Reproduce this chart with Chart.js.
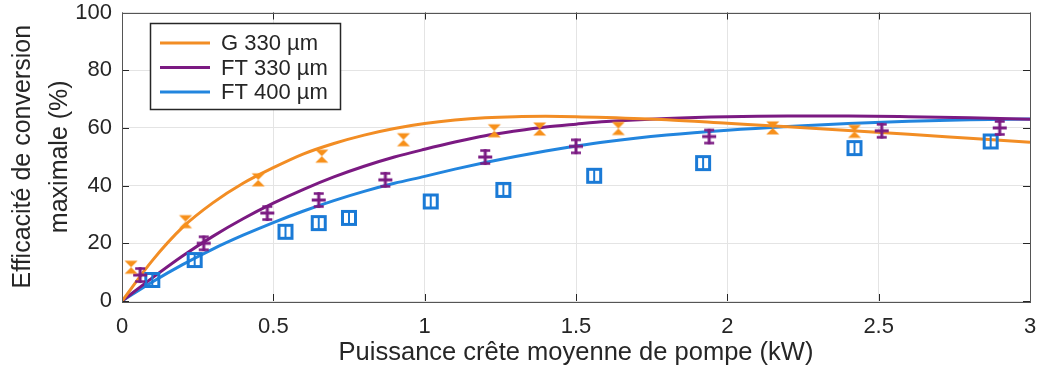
<!DOCTYPE html>
<html>
<head>
<meta charset="utf-8">
<script src="https://cdn.jsdelivr.net/npm/chart.js@4.4.1/dist/chart.umd.min.js"></script>
<style>
  html, body { margin: 0; padding: 0; background: #fff; }
</style>
</head>
<body>
<canvas id="effChart" width="1037" height="376"></canvas>
<script>
// fitted curves
const curveX = [0, 0.1, 0.2, 0.3, 0.4, 0.5, 0.6, 0.7, 0.8, 0.9, 1.0, 1.1, 1.2, 1.3, 1.4, 1.5, 1.6, 1.8, 2.0, 2.2, 2.4, 2.6, 2.8, 3.0];
const fitG330 = [0, 14, 25.5, 34, 40.8, 46.2, 51, 54.6, 57.5, 59.8, 61.5, 62.7, 63.5, 63.9, 64, 63.9, 63.6, 62.8, 61.6, 60.4, 59.1, 57.8, 56.4, 55];
const fitFT330 = [0, 8, 15.6, 22.4, 28.5, 33.9, 38.7, 43, 46.7, 49.9, 52.6, 55.1, 57.3, 58.9, 60.3, 61.3, 62.2, 63.3, 63.9, 64.1, 64.1, 63.9, 63.5, 63];
const fitFT400 = [0, 6.6, 12.6, 18, 22.8, 27.2, 31.2, 34.8, 38, 40.8, 43.2, 45.7, 48, 50.1, 52, 53.7, 55.2, 57.5, 59.2, 60.5, 61.5, 62.3, 62.8, 63.1];

// measured points
const measG330X = [0.03, 0.21, 0.45, 0.66, 0.93, 1.23, 1.38, 1.64, 2.15, 2.42];
const measG330Y = [11.7, 27.5, 42, 50.2, 55.9, 59, 59.6, 59.8, 60, 58.8];
const measFT330X = [0.06, 0.27, 0.48, 0.65, 0.87, 1.2, 1.5, 1.94, 2.51, 2.9];
const measFT330Y = [9, 20, 30.5, 35, 42, 49.9, 53.6, 57, 59, 60];
const measFT400X = [0.1, 0.24, 0.54, 0.65, 0.75, 1.02, 1.26, 1.56, 1.92, 2.42, 2.87];
const measFT400Y = [7.3, 14.2, 24, 27, 28.8, 34.5, 38.5, 43.4, 47.8, 53, 55.3];

const seriesLabels = ['G 330 µm', 'FT 330 µm', 'FT 400 µm'];
const xTicks = [0, 0.5, 1, 1.5, 2, 2.5, 3];
const yTicks = [0, 20, 40, 60, 80, 100];

const ORANGE = '#F28D24';
const PURPLE = '#7B1A82';
const BLUE = '#2285DE';
const MARK_BLUE = '#1A7AD6';
const TXT = '#262626';
const FONT = "'Liberation Sans', Arial, sans-serif";

function toPoints(xs, ys) {
  return xs.map((x, i) => ({ x: x, y: ys[i] }));
}

// marker glyphs (marker + its small error bar)
function makeMarker(kind, color) {
  const c = document.createElement('canvas');
  c.width = 20;
  c.height = 20;
  const g = c.getContext('2d');
  g.strokeStyle = color;
  g.fillStyle = color;
  if (kind === 'hourglass') {
    g.beginPath();
    g.moveTo(3.5, 3.5); g.lineTo(16.5, 3.5); g.lineTo(10, 10);
    g.lineTo(16.5, 16.5); g.lineTo(3.5, 16.5); g.lineTo(10, 10);
    g.closePath();
    g.fill();
  } else if (kind === 'plus') {
    g.lineWidth = 3;
    g.beginPath();
    g.moveTo(10, 2); g.lineTo(10, 18);
    g.moveTo(3, 10); g.lineTo(17, 10);
    g.stroke();
    g.lineWidth = 2.5;
    g.beginPath();
    g.moveTo(5, 3.5); g.lineTo(15, 3.5);
    g.moveTo(5, 16.5); g.lineTo(15, 16.5);
    g.stroke();
  } else {
    g.lineWidth = 3;
    g.strokeRect(3.5, 3.5, 13, 13);
    g.lineWidth = 2;
    g.beginPath();
    g.moveTo(10, 4); g.lineTo(10, 16);
    g.stroke();
  }
  return c;
}

const curveDs = (label, ys, color) => ({
  type: 'line',
  label: label,
  data: toPoints(curveX, ys),
  borderColor: color,
  borderWidth: 3,
  pointRadius: 0,
  fill: false,
  cubicInterpolationMode: 'monotone',
  order: 2
});

const markDs = (xs, ys, glyph) => ({
  type: 'scatter',
  data: toPoints(xs, ys),
  pointStyle: glyph,
  pointRadius: 10,
  showLine: false,
  order: 1
});

// box around the axes + inward ticks on all four sides
const framePlugin = {
  id: 'frame',
  afterDatasetsDraw(chart) {
    const { ctx, chartArea: a, scales } = chart;
    ctx.save();
    ctx.strokeStyle = TXT;
    ctx.lineWidth = 1;
    ctx.beginPath();
    scales.x.ticks.forEach(t => {
      const px = Math.round(scales.x.getPixelForValue(t.value)) + 0.5;
      ctx.moveTo(px, a.bottom); ctx.lineTo(px, a.bottom - 7);
      ctx.moveTo(px, a.top); ctx.lineTo(px, a.top + 7);
    });
    scales.y.ticks.forEach(t => {
      const py = Math.round(scales.y.getPixelForValue(t.value)) + 0.5;
      ctx.moveTo(a.left, py); ctx.lineTo(a.left + 7, py);
      ctx.moveTo(a.right, py); ctx.lineTo(a.right - 7, py);
    });
    ctx.stroke();
    ctx.strokeStyle = '#555';
    ctx.strokeRect(Math.round(a.left) + 0.5, Math.round(a.top) + 0.5,
      Math.round(a.right - a.left), Math.round(a.bottom - a.top));
    ctx.restore();
  }
};

// legend box inside the axes, top-left
const legendPlugin = {
  id: 'boxLegend',
  afterDraw(chart) {
    const { ctx, chartArea: a } = chart;
    const curves = chart.data.datasets.filter(d => d.type === 'line');
    const bx = Math.round(a.left) + 28, by = Math.round(a.top) + 10, bw = 190, bh = 86;
    ctx.save();
    ctx.fillStyle = '#fff';
    ctx.fillRect(bx, by, bw, bh);
    ctx.strokeStyle = TXT;
    ctx.lineWidth = 1.5;
    ctx.strokeRect(bx + 0.5, by + 0.5, bw, bh);
    ctx.font = '22px ' + FONT;
    ctx.textBaseline = 'middle';
    curves.forEach((d, i) => {
      const y = by + 20 + i * 24.5;
      ctx.strokeStyle = d.borderColor;
      ctx.lineWidth = 3;
      ctx.beginPath();
      ctx.moveTo(bx + 10, y);
      ctx.lineTo(bx + 60, y);
      ctx.stroke();
      ctx.fillStyle = TXT;
      ctx.fillText(d.label, bx + 71, y + 1);
    });
    ctx.restore();
  }
};

new Chart(document.getElementById('effChart'), {
  data: {
    datasets: [
      curveDs(seriesLabels[0], fitG330, ORANGE),
      curveDs(seriesLabels[1], fitFT330, PURPLE),
      curveDs(seriesLabels[2], fitFT400, BLUE),
      markDs(measG330X, measG330Y, makeMarker('hourglass', '#F7901A')),
      markDs(measFT330X, measFT330Y, makeMarker('plus', PURPLE)),
      markDs(measFT400X, measFT400Y, makeMarker('square', MARK_BLUE))
    ]
  },
  options: {
    responsive: false,
    animation: false,
    devicePixelRatio: 1,
    layout: { autoPadding: false, padding: { top: 12.5, right: 7, left: 0, bottom: 0 } },
    plugins: {
      legend: { display: false },
      tooltip: { enabled: false }
    },
    scales: {
      x: {
        type: 'linear',
        min: 0,
        max: 3,
        afterBuildTicks: s => { s.ticks = xTicks.map(v => ({ value: v })); },
        afterFit: s => { s.height = 75; s.paddingLeft = 0; s.paddingRight = 0; },
        ticks: {
          color: TXT,
          font: { family: FONT, size: 22 },
          padding: 13,
          maxRotation: 0,
          callback: v => String(v)
        },
        grid: { color: '#e4e4e4', drawTicks: false },
        border: { display: false },
        title: {
          display: true,
          text: 'Puissance crête moyenne de pompe (kW)',
          color: TXT,
          font: { family: FONT, size: 25.5, lineHeight: 1.2 },
          padding: { top: 0, bottom: 8 }
        }
      },
      y: {
        type: 'linear',
        min: 0,
        max: 100,
        afterBuildTicks: s => { s.ticks = yTicks.map(v => ({ value: v })); },
        afterFit: s => { s.width = 122; s.paddingTop = 0; s.paddingBottom = 0; },
        ticks: {
          color: TXT,
          font: { family: FONT, size: 22 },
          padding: 10
        },
        grid: { color: '#e4e4e4', drawTicks: false },
        border: { display: false },
        title: {
          display: true,
          text: ['Efficacité de conversion', 'maximale (%)'],
          color: TXT,
          font: { family: FONT, size: 25, lineHeight: '37px' },
          padding: { top: 5, bottom: 0 }
        }
      }
    }
  },
  plugins: [framePlugin, legendPlugin]
});
</script>
</body>
</html>
